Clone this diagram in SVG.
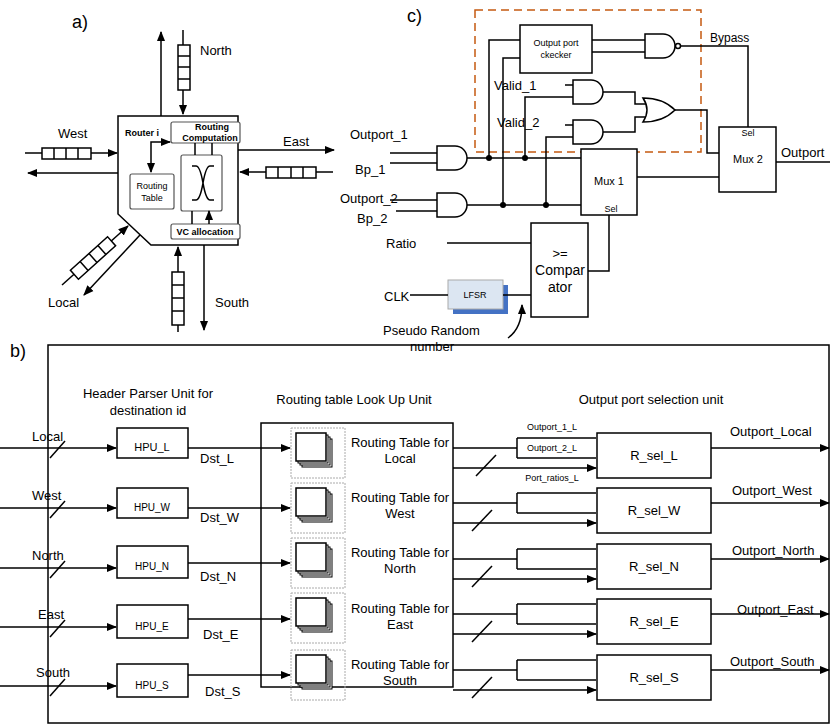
<svg xmlns="http://www.w3.org/2000/svg" width="830" height="727" viewBox="0 0 830 727">
<defs>
<marker id="a" viewBox="0 0 10 10" refX="9" refY="5" markerWidth="7" markerHeight="7" orient="auto-start-reverse"><path d="M0,1L10,5L0,9z" fill="#000"/></marker>
<g id="stk"><rect x="6" y="6" width="30" height="28" fill="#fff" stroke="#000"/><rect x="4" y="4" width="30" height="28" fill="#fff" stroke="#000"/><rect x="2" y="2" width="30" height="28" fill="#fff" stroke="#000"/><rect x="0" y="0" width="30" height="28" fill="#fff" stroke="#000" stroke-width="1.5"/></g>
</defs>
<style>
text{font-family:"Liberation Sans",Arial,sans-serif;fill:#000}
.l{stroke:#000;stroke-width:1.5;fill:none}
.b{fill:#fff;stroke:#000;stroke-width:1.5}
.g{fill:#fff;stroke:#555;stroke-width:1.2}
.s{font-size:13px}.m{font-size:11px}.t{font-size:9px}
</style>
<rect width="830" height="727" fill="#fff"/>
<!-- part a -->
<g id="parta">
<text x="72" y="28" font-size="18">a)</text>
<path class="b" d="M118,116H238V245H151L118,214Z"/>
<text x="125" y="136" class="t" font-weight="bold">Router i</text>
<rect x="171" y="122" width="69" height="21" class="g" rx="2"/>
<text x="212" y="130" class="t" font-weight="bold" text-anchor="middle">Routing</text>
<text x="210" y="141" class="t" font-weight="bold" text-anchor="middle">Computation</text>
<rect x="130" y="174" width="44" height="35" class="g" rx="2"/>
<text x="152" y="189" class="t" text-anchor="middle">Routing</text>
<text x="152" y="201" class="t" text-anchor="middle">Table</text>
<rect x="181" y="155" width="41" height="56" class="g" rx="2"/>
<path class="l" stroke-width="1" d="M192,166h4q4,0 7,17t7,17h4M192,200h4q4,0 7,-17t7,-17h4"/>
<rect x="171" y="224" width="69" height="15" class="g" rx="2"/>
<text x="205" y="235" class="t" font-weight="bold" text-anchor="middle">VC allocation</text>
<path class="l" stroke-width="1" marker-start="url(#a)" marker-end="url(#a)" d="M151,172V142H170"/>
<path class="l" stroke-width="1" marker-end="url(#a)" d="M195,143V155M212,143V155M192,224V211M209,224V211"/>
<path class="l" marker-end="url(#a)" d="M161,116V32"/>
<path class="l" marker-end="url(#a)" d="M183,30V114"/>
<rect x="178" y="45" width="12" height="45" class="b" stroke-width="1"/><path class="l" stroke-width="1" d="M178,56h12M178,67h12M178,79h12"/>
<text x="200" y="55" class="s">North</text>
<path class="l" marker-end="url(#a)" d="M25,153H117"/>
<rect x="42" y="148" width="49" height="11" class="b" stroke-width="1"/><path class="l" stroke-width="1" d="M54,148v11M66,148v11M78,148v11"/>
<path class="l" marker-end="url(#a)" d="M118,173H28"/>
<text x="58" y="138" class="s">West</text>
<path class="l" marker-end="url(#a)" d="M238,150H334"/>
<path class="l" marker-end="url(#a)" d="M333,172H240"/>
<rect x="266" y="167" width="50" height="11" class="b" stroke-width="1"/><path class="l" stroke-width="1" d="M278,167v11M291,167v11M303,167v11"/>
<text x="283" y="146" class="s">East</text>
<path class="l" marker-end="url(#a)" d="M178,332V247"/>
<rect x="172" y="272" width="12" height="53" class="b" stroke-width="1"/><path class="l" stroke-width="1" d="M172,285h12M172,298h12M172,311h12"/>
<path class="l" marker-end="url(#a)" d="M204,245V330"/>
<text x="215" y="307" class="s">South</text>
<path class="l" marker-end="url(#a)" d="M62,285L128,226"/>
<rect x="-25" y="-6" width="50" height="12" class="b" stroke-width="1" transform="translate(93,258) rotate(-42)"/>
<path class="l" stroke-width="1" transform="translate(93,258) rotate(-42)" d="M-12,-6v12M0,-6v12M12,-6v12"/>
<path class="l" marker-end="url(#a)" d="M140,235L84,295"/>
<text x="48" y="307" class="s">Local</text>
</g>
<!-- part c -->
<g id="partc">
<text x="407" y="22" font-size="18">c)</text>
<rect x="475" y="10" width="226" height="142" fill="none" stroke="#c55a11" stroke-width="1.5" stroke-dasharray="8,5"/>
<rect x="520" y="25" width="72" height="48" class="b"/>
<text x="556" y="46" class="t" text-anchor="middle">Output port</text>
<text x="556" y="58" class="t" text-anchor="middle">ckecker</text>
<path class="b" d="M645,34h18a12,12 0 0 1 0,24h-18z"/><circle cx="678" cy="46" r="2.5" class="b" stroke-width="1"/>
<path class="l" d="M592,40H645M592,52H645M681,46H748V127"/>
<text x="710" y="42" font-size="12">Bypass</text>
<path class="b" d="M573,80h18a12,12 0 0 1 0,24h-18z"/>
<path class="b" d="M573,120h18a12,12 0 0 1 0,24h-18z"/>
<path class="b" d="M643,98q20,0 32,12q-12,12 -32,12q8,-12 0,-24z"/>
<path class="l" d="M603,92H635V104H646M603,132H635V117H646M675,110H707V153H719"/>
<path class="l" d="M565,85H573M565,125H573"/>
<text x="494" y="90" font-size="13">Valid_1</text>
<text x="497" y="127" font-size="13">Valid_2</text>
<rect x="719" y="127" width="57" height="65" class="b"/>
<text x="748" y="136" class="t" text-anchor="middle" font-size="7">Sel</text>
<text x="748" y="163" class="m" text-anchor="middle">Mux 2</text>
<path class="l" d="M776,162H830"/>
<text x="781" y="157" class="s">Outport</text>
<rect x="581" y="149" width="56" height="66" class="b"/>
<text x="609" y="185" class="m" text-anchor="middle">Mux 1</text>
<text x="611" y="212" class="t" text-anchor="middle" font-size="7">Sel</text>
<path class="l" d="M637,177H719"/>
<path class="b" d="M437,146h18a12,12 0 0 1 0,24h-18z"/>
<path class="b" d="M437,193h18a12,12 0 0 1 0,24h-18z"/>
<path class="l" d="M390,153H437M390,163H437M390,200H437M396,211H437M467,158H581M467,205H581"/>
<path class="l" d="M489,158V40H520M503,205V58H520M525,158V97H573M546,205V137H573"/>
<circle cx="489" cy="158" r="3"/><circle cx="525" cy="158" r="3"/><circle cx="503" cy="205" r="3"/><circle cx="546" cy="205" r="3"/>
<text x="350" y="139" class="s">Outport_1</text>
<text x="355" y="174" class="s">Bp_1</text>
<text x="340" y="203" class="s">Outport_2</text>
<text x="357" y="223" class="s">Bp_2</text>
<rect x="531" y="223" width="57" height="94" class="b"/>
<text x="560" y="258" class="s" text-anchor="middle">&gt;=</text>
<text x="560" y="275" font-size="14" text-anchor="middle">Compar</text>
<text x="560" y="292" font-size="14" text-anchor="middle">ator</text>
<path class="l" d="M447,243H531M609,215V271H588"/>
<text x="386" y="248" class="s">Ratio</text>
<rect x="453" y="285" width="55" height="29" fill="#4472c4"/>
<rect x="448" y="280" width="55" height="29" fill="#dce6f2" stroke="#aaa"/>
<text x="475" y="298" font-family="Liberation Serif,serif" font-size="9" text-anchor="middle">LFSR</text>
<path class="l" d="M410,295H448M503,295H531"/>
<text x="384" y="301" class="s">CLK</text>
<path class="l" stroke-width="0.8" marker-end="url(#a)" d="M508,338Q522,328 522,305"/>
<text x="383" y="335" class="s">Pseudo Random</text>
<text x="410" y="351" class="s">number</text>
</g>
<!-- part b -->
<g id="partb">
<text x="10" y="357" font-size="18">b)</text>
<rect x="48" y="345" width="781" height="378" fill="none" stroke="#000" stroke-width="1.5"/>
<text x="148" y="398" class="s" text-anchor="middle">Header Parser Unit for</text>
<text x="148" y="415" class="s" text-anchor="middle">destination id</text>
<text x="354" y="404" class="s" text-anchor="middle">Routing table Look Up Unit</text>
<text x="651" y="404" class="s" text-anchor="middle">Output port selection unit</text>
<rect x="261" y="423" width="192" height="264" class="b"/>
</g>
<g id="rows">
<g id="rowL" transform="translate(0,0)">
<text x="32" y="441" class="s">Local</text>
<path class="l" marker-end="url(#a)" d="M0,448H116"/><path class="l" stroke-width="1" d="M50,458L65,441"/>
<rect x="117" y="428" width="71" height="30" class="b"/><text x="152" y="451" class="m" text-anchor="middle" font-size="10">HPU_L</text>
<path class="l" d="M188,448H261"/><path class="l" marker-end="url(#a)" d="M261,448H290"/>
<text x="200" y="463" class="s">Dst_L</text>
<rect x="291" y="428" width="54" height="50" fill="none" stroke="#aaa" stroke-dasharray="2,1"/><use href="#stk" x="296" y="433"/>
<text x="400" y="447" class="s" text-anchor="middle">Routing Table for</text><text x="400" y="463" class="s" text-anchor="middle">Local</text>
<path class="l" d="M453,448H517M517,438V458"/><path class="l" marker-end="url(#a)" d="M517,438H596M517,458H596M453,468H596"/><path class="l" stroke-width="1" d="M476,476L496,455"/>
<text x="552" y="430" font-size="9" text-anchor="middle">Outport_1_L</text><text x="552" y="451" font-size="9" text-anchor="middle">Outport_2_L</text><text x="552" y="481" font-size="9" text-anchor="middle">Port_ratios_L</text>
<rect x="597" y="433" width="114" height="45" class="b"/><text x="654" y="460" class="s" text-anchor="middle">R_sel_L</text>
<path class="l" marker-end="url(#a)" d="M711,448H829"/><text x="730" y="436" class="s">Outport_Local</text>
</g>
<g id="rowW">
<text x="32" y="500" class="s">West</text>
<path class="l" marker-end="url(#a)" d="M0,508H116"/><path class="l" stroke-width="1" d="M50,518L65,501"/>
<rect x="117" y="488" width="71" height="30" class="b"/><text x="152" y="511" text-anchor="middle" font-size="10">HPU_W</text>
<path class="l" d="M188,508H261"/><path class="l" marker-end="url(#a)" d="M261,508H290"/>
<text x="200" y="522" class="s">Dst_W</text>
<rect x="291" y="483" width="54" height="50" fill="none" stroke="#aaa" stroke-dasharray="2,1"/><use href="#stk" x="296" y="488"/>
<text x="400" y="502" class="s" text-anchor="middle">Routing Table for</text><text x="400" y="518" class="s" text-anchor="middle">West</text>
<path class="l" d="M453,503H517M517,493V513"/><path class="l" marker-end="url(#a)" d="M517,493H596M517,513H596M453,523H596"/><path class="l" stroke-width="1" d="M472,531L492,510"/>
<rect x="597" y="488" width="114" height="45" class="b"/><text x="654" y="515" class="s" text-anchor="middle">R_sel_W</text>
<path class="l" marker-end="url(#a)" d="M711,503H829"/><text x="732" y="495" class="s">Outport_West</text>
</g>
<g id="rowN">
<text x="32" y="560" class="s">North</text>
<path class="l" marker-end="url(#a)" d="M0,568H116"/><path class="l" stroke-width="1" d="M50,578L65,561"/>
<rect x="117" y="546" width="71" height="32" class="b"/><text x="152" y="570" text-anchor="middle" font-size="10">HPU_N</text>
<path class="l" d="M188,563H261"/><path class="l" marker-end="url(#a)" d="M261,563H290"/>
<text x="200" y="581" class="s">Dst_N</text>
<rect x="291" y="538" width="54" height="50" fill="none" stroke="#aaa" stroke-dasharray="2,1"/><use href="#stk" x="296" y="543"/>
<text x="400" y="557" class="s" text-anchor="middle">Routing Table for</text><text x="400" y="573" class="s" text-anchor="middle">North</text>
<path class="l" d="M453,559H517M517,549V569"/><path class="l" marker-end="url(#a)" d="M517,549H596M517,569H596M453,579H596"/><path class="l" stroke-width="1" d="M472,587L492,566"/>
<rect x="597" y="544" width="114" height="45" class="b"/><text x="654" y="571" class="s" text-anchor="middle">R_sel_N</text>
<path class="l" marker-end="url(#a)" d="M711,559H829"/><text x="732" y="555" class="s">Outport_North</text>
</g>
<g id="rowE">
<text x="38" y="619" class="s">East</text>
<path class="l" marker-end="url(#a)" d="M0,627H116"/><path class="l" stroke-width="1" d="M50,637L65,620"/>
<rect x="117" y="605" width="71" height="33" class="b"/><text x="152" y="630" text-anchor="middle" font-size="10">HPU_E</text>
<path class="l" d="M188,619H261"/><path class="l" marker-end="url(#a)" d="M261,619H290"/>
<text x="203" y="639" class="s">Dst_E</text>
<rect x="291" y="593" width="54" height="50" fill="none" stroke="#aaa" stroke-dasharray="2,1"/><use href="#stk" x="296" y="598"/>
<text x="400" y="613" class="s" text-anchor="middle">Routing Table for</text><text x="400" y="629" class="s" text-anchor="middle">East</text>
<path class="l" d="M453,614H517M517,604V624"/><path class="l" marker-end="url(#a)" d="M517,604H596M517,624H596M453,634H596"/><path class="l" stroke-width="1" d="M472,642L492,621"/>
<rect x="597" y="599" width="114" height="45" class="b"/><text x="654" y="626" class="s" text-anchor="middle">R_sel_E</text>
<path class="l" marker-end="url(#a)" d="M711,614H829"/><text x="737" y="614" class="s">Outport_East</text>
</g>
<g id="rowS">
<text x="36" y="677" class="s">South</text>
<path class="l" marker-end="url(#a)" d="M0,686H116"/><path class="l" stroke-width="1" d="M50,696L65,679"/>
<rect x="117" y="664" width="71" height="33" class="b"/><text x="152" y="689" text-anchor="middle" font-size="10">HPU_S</text>
<path class="l" d="M188,675H261"/><path class="l" marker-end="url(#a)" d="M261,675H290"/>
<text x="205" y="696" class="s">Dst_S</text>
<rect x="291" y="650" width="54" height="50" fill="none" stroke="#aaa" stroke-dasharray="2,1"/><use href="#stk" x="296" y="655"/>
<text x="400" y="669" class="s" text-anchor="middle">Routing Table for</text><text x="400" y="685" class="s" text-anchor="middle">South</text>
<path class="l" d="M453,670H517M517,660V680"/><path class="l" marker-end="url(#a)" d="M517,660H596M517,680H596M453,690H596"/><path class="l" stroke-width="1" d="M472,698L492,677"/>
<rect x="597" y="655" width="114" height="45" class="b"/><text x="654" y="682" class="s" text-anchor="middle">R_sel_S</text>
<path class="l" marker-end="url(#a)" d="M711,670H829"/><text x="730" y="666" class="s">Outport_South</text>
</g>
</g>
</svg>
